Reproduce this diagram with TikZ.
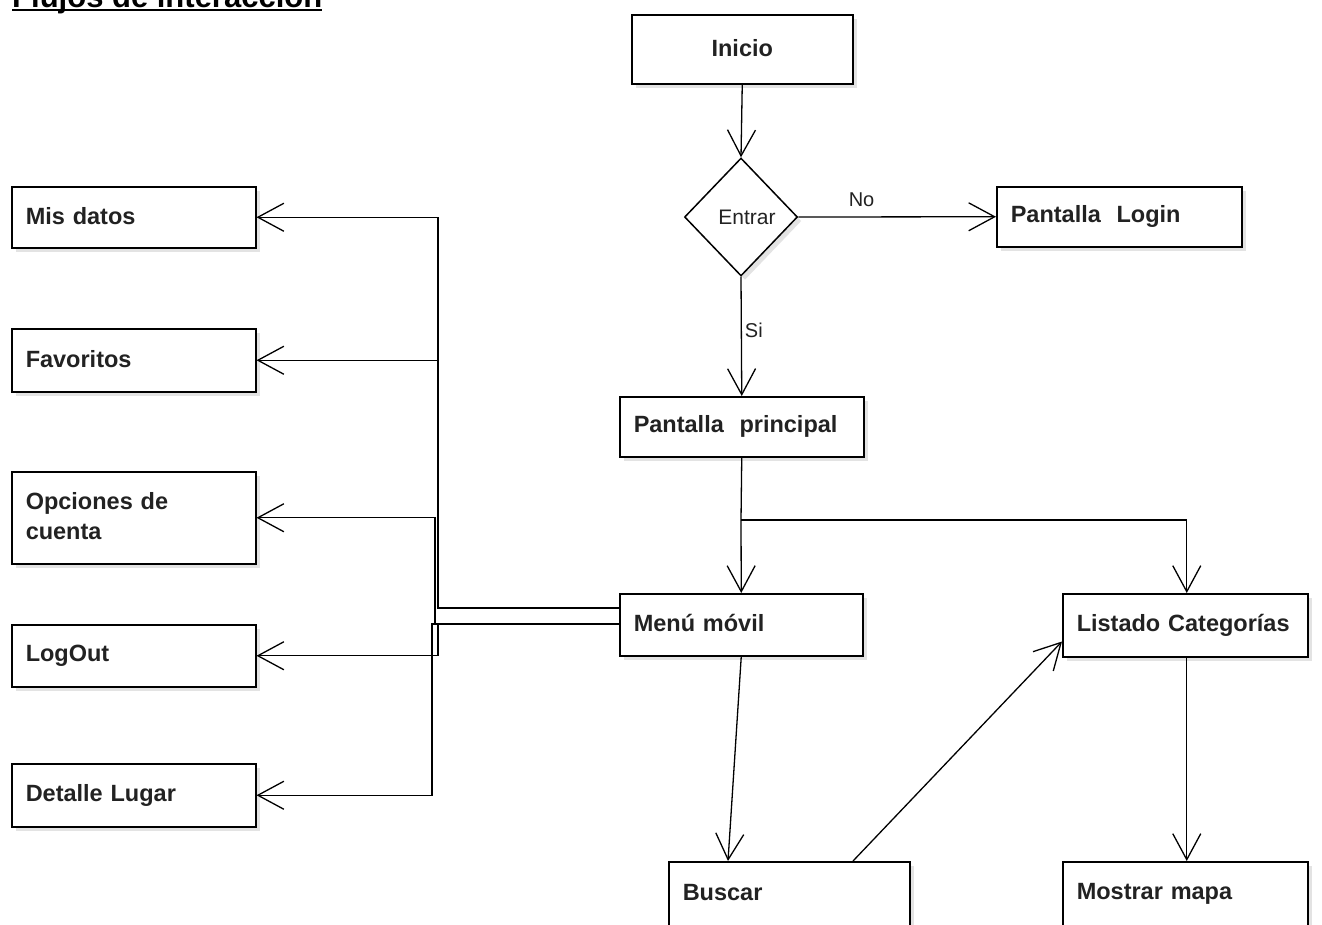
\documentclass[tikz,border=0pt]{standalone}
\usepackage{fontspec}
\setmainfont{Liberation Sans}
\usetikzlibrary{arrows.meta,shapes.geometric,shadows,calc}
\definecolor{txt}{HTML}{222222}
\begin{document}
\begin{tikzpicture}[x=1pt,y=-1pt,
  box/.style={draw=black, line width=1.5pt, fill=white, rectangle, inner xsep=14pt, inner ysep=0pt,
    align=left, anchor=north west, text=txt,
    font=\bfseries\fontsize{23.5}{30}\selectfont,
    drop shadow={opacity=0.22, shadow xshift=4pt, shadow yshift=-4pt}},
  conn/.style={line width=1.3pt, draw=black},
  arr/.style={conn, -{Straight Barb[length=26pt,width=28pt,line width=1.3pt]}},
  lbl/.style={font=\fontsize{20}{24}\selectfont, text=txt, inner sep=2pt}]
\useasboundingbox (0,0) rectangle (1322,924);
% title
\node[anchor=base west, inner sep=0pt, font=\bfseries\fontsize{31}{36}\selectfont] (title) at (12,7) {Flujos de interacción};
\draw[line width=1.8pt] ($(title.base west)+(0,2.6)$) -- ($(title.base east)+(0,2.6)$);
% boxes
\node[box, align=center, minimum width=221pt, minimum height=69pt, text width=193pt] (inicio) at (631,14) {\raisebox{3pt}{Inicio}\hspace{12pt}};
\node[diamond, draw=black, line width=1.5pt, fill=white, minimum width=113pt, minimum height=118pt, inner sep=0pt,
      font=\fontsize{21}{24}\selectfont, text=txt,
      drop shadow={opacity=0.22, shadow xshift=4pt, shadow yshift=-4pt}] (entrar) at (741,217) {\hspace{12pt}Entrar};
\node[box, minimum width=245pt, minimum height=60pt, text width=217pt] (login) at (996,186) {\raisebox{2pt}{Pantalla\ \ Login}};
\node[box, minimum width=244pt, minimum height=60pt, text width=216pt] (principal) at (619,396) {\raisebox{3pt}{Pantalla\ \ principal}};
\node[box, minimum width=243pt, minimum height=62pt, text width=215pt] (menu) at (619,593) {\raisebox{3pt}{Menú móvil}};
\node[box, minimum width=245pt, minimum height=63pt, text width=217pt] (listado) at (1062,593) {\raisebox{3pt}{Listado Categorías}};
\node[box, minimum width=241pt, minimum height=64pt, text width=213pt] (buscar) at (668,861) {\raisebox{2pt}{Buscar}};
\node[box, minimum width=245pt, minimum height=64pt, text width=217pt] (mostrar) at (1062,861) {\raisebox{2pt}{Mostrar mapa}};
\node[box, minimum width=244pt, minimum height=61pt, text width=216pt] (misdatos) at (11,186) {\raisebox{2pt}{Mis datos}};
\node[box, minimum width=244pt, minimum height=63pt, text width=216pt] (favoritos) at (11,328) {\raisebox{2pt}{Favoritos}};
\node[box, minimum width=244pt, minimum height=92pt, text width=216pt] (opciones) at (11,471) {\raisebox{4pt}{\parbox[b]{216pt}{Opciones de\\cuenta}}};
\node[box, minimum width=244pt, minimum height=62pt, text width=216pt] (logout) at (11,624) {\raisebox{2pt}{LogOut}};
\node[box, minimum width=244pt, minimum height=63pt, text width=216pt] (detalle) at (11,763) {\raisebox{2pt}{Detalle Lugar}};
% helper coordinates
\coordinate (j) at (741,520);
\coordinate (vA) at (438,0);
\coordinate (vB) at (435,0);
\coordinate (vC) at (432,0);
\coordinate (m1) at (619,608);
\coordinate (m2) at (619,624);
% right side connectors
\draw[arr] (inicio.south) -- (entrar.north);
\draw[arr] (entrar.east) -- node[lbl, pos=0.32, above=8pt] {No} (login.west);
\draw[arr] (entrar.south) -- node[lbl, pos=0.45, right=1pt] {Si} (principal.north);
\draw[conn] (principal.south) -- (j);
\draw[arr] (j) -- (menu.north);
\draw[arr] (j) -| ($(listado.north)+(1.5,0)$);
\draw[arr] ($(listado.south)+(1.5,0)$) -- ($(mostrar.north)+(1.5,0)$);
\draw[arr] (menu.south) -- ($(buscar.north west)+(60,0)$);
\draw[arr] ($(buscar.north west)+(185,0)$) -- ($(listado.south west)+(0,-16)$);
% left side connectors
\draw[arr] (m1) -| (misdatos.east -| vA) -- (misdatos.east);
\draw[arr] (favoritos.east -| vA) -- (favoritos.east);
\draw[arr] (m2) -| (opciones.east -| vB) -- (opciones.east);
\draw[arr] (m2) -| (logout.east -| vA) -- (logout.east);
\draw[arr] (m2) -| (detalle.east -| vC) -- (detalle.east);
\end{tikzpicture}
\end{document}
